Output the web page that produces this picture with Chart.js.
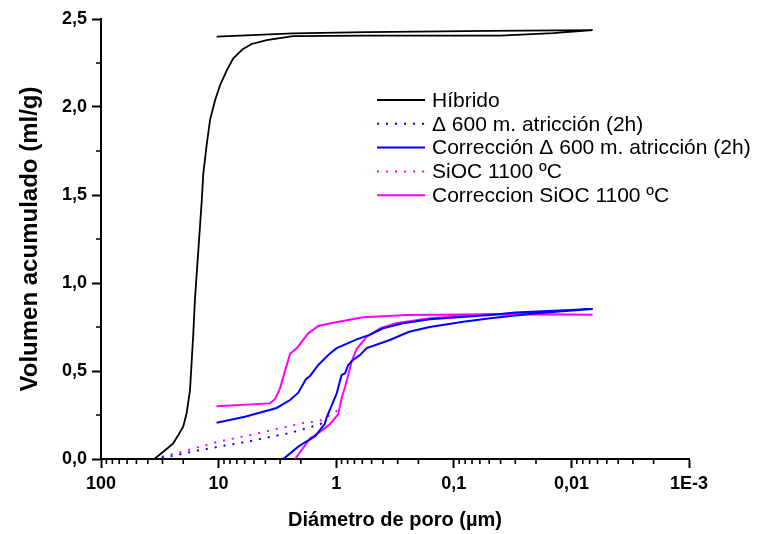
<!DOCTYPE html>
<html>
<head>
<meta charset="utf-8">
<script src="https://cdn.jsdelivr.net/npm/chart.js@4.4.1/dist/chart.umd.min.js"></script>
<style>
  html, body { margin: 0; padding: 0; background: #fff; }
  #wrap { width: 758px; height: 534px; position: relative; }
</style>
</head>
<body>
<div id="wrap"><canvas id="c"></canvas></div>
<script>
// Pore diameter (µm) and cumulative volume (ml/g): intrusion branch, then extrusion branch
const hibridoDiam = [35.2, 29.5, 24.3, 22.0, 20.0, 18.7, 17.5, 16.4, 15.9, 13.9, 13.5, 12.6, 11.8, 10.7, 9.7, 8.5, 7.5, 6.2, 5.23, 3.9, 2.33, 0.55, 0.0405, 0.0143, 0.0066, 0.05, 0.55, 2.33, 10.4];
const hibridoVol  = [0, 0.041, 0.089, 0.136, 0.184, 0.26, 0.392, 0.716, 0.903, 1.47, 1.62, 1.79, 1.93, 2.04, 2.125, 2.21, 2.277, 2.33, 2.358, 2.38, 2.403, 2.405, 2.405, 2.42, 2.437, 2.432, 2.425, 2.418, 2.40];

const atr600Diam = [30.5, 25.0, 14.4, 5.77, 2.39, 1.37, 1.22];
const atr600Vol  = [0.008, 0.017, 0.051, 0.098, 0.15, 0.197, 0.222];

const corrAtr600Diam = [2.82, 2.10, 1.84, 1.51, 1.25, 1.20, 0.99, 0.90, 0.84, 0.79, 0.72, 0.63, 0.55, 0.35, 0.24, 0.16, 0.083, 0.049, 0.02, 0.0066,
                        0.03, 0.049, 0.16, 0.27, 0.40, 0.52, 0.67, 0.99, 1.13, 1.42, 1.67, 1.81, 2.10, 2.47, 3.21, 5.97, 10.4];
const corrAtr600Vol  = [0, 0.07, 0.095, 0.13, 0.20, 0.24, 0.373, 0.477, 0.487, 0.534, 0.563, 0.59, 0.63, 0.676, 0.723, 0.75, 0.78, 0.80, 0.828, 0.852,
                        0.832, 0.818, 0.794, 0.771, 0.743, 0.705, 0.68, 0.63, 0.60, 0.534, 0.472, 0.453, 0.377, 0.335, 0.29, 0.24, 0.206];

const siocDiam = [35.9, 20.6, 10.1, 4.90, 1.96, 1.37, 1.17, 0.96];
const siocVol  = [0, 0.041, 0.098, 0.142, 0.203, 0.218, 0.244, 0.278];

const corrSiocDiam = [2.24, 1.67, 1.37, 1.13, 0.96, 0.90, 0.84, 0.79, 0.74, 0.67, 0.59, 0.55, 0.42, 0.31, 0.16, 0.049, 0.0066,
                      0.05, 0.25, 0.59, 1.06, 1.42, 1.73, 2.17, 2.47, 3.01, 3.31, 3.66, 10.4];
const corrSiocVol  = [0, 0.117, 0.155, 0.198, 0.255, 0.345, 0.41, 0.477, 0.553, 0.625, 0.67, 0.695, 0.743, 0.771, 0.80, 0.822, 0.82,
                      0.822, 0.818, 0.805, 0.774, 0.756, 0.714, 0.629, 0.597, 0.40, 0.34, 0.316, 0.30];

const xTickValues = [100, 10, 1, 0.1, 0.01, 0.001];
const xTickLabels = ['100', '10', '1', '0,1', '0,01', '1E-3'];
const yTickValues = [0, 0.5, 1.0, 1.5, 2.0, 2.5];
const yTickLabels = ['0,0', '0,5', '1,0', '1,5', '2,0', '2,5'];

const FONT = "'Liberation Sans', Arial, sans-serif";

function pts(d, v) { return d.map((x, i) => ({ x: x, y: v[i] })); }

function series(label, d, v, color, width, dash) {
  return {
    label: label, data: pts(d, v), showLine: true, borderColor: color, backgroundColor: color,
    borderWidth: width, borderDash: dash || [], borderCapStyle: 'butt', pointRadius: 0, tension: 0, fill: false
  };
}

// small ticks between the labelled ones (2..9 per decade, halfway steps on the volume axis)
const minorTicks = {
  id: 'minorTicks',
  afterDraw(chart) {
    const { ctx, scales: { x, y }, chartArea } = chart;
    ctx.save();
    ctx.strokeStyle = '#000';
    ctx.lineWidth = 1.6;
    ctx.beginPath();
    for (let e = -3; e < 2; e++) {
      for (let k = 2; k <= 9; k++) {
        const px = x.getPixelForValue(k * Math.pow(10, e));
        ctx.moveTo(px, chartArea.bottom);
        ctx.lineTo(px, chartArea.bottom + 5);
      }
    }
    for (let i = 0; i < yTickValues.length - 1; i++) {
      const py = y.getPixelForValue((yTickValues[i] + yTickValues[i + 1]) / 2);
      ctx.moveTo(chartArea.left - 5, py);
      ctx.lineTo(chartArea.left, py);
    }
    ctx.stroke();
    ctx.restore();
  }
};

// legend block inside the plot
const seriesKey = {
  id: 'seriesKey',
  afterDraw(chart) {
    const ctx = chart.ctx;
    const x0 = 377, x1 = 425, tx = 432, y0 = 100, step = 23.8;
    ctx.save();
    ctx.font = "21px " + FONT;
    ctx.textBaseline = 'middle';
    ctx.fillStyle = '#000';
    chart.data.datasets.forEach((ds, i) => {
      const yy = y0 + i * step;
      ctx.strokeStyle = ds.borderColor;
      ctx.lineWidth = ds.borderWidth;
      ctx.lineCap = 'butt';
      ctx.setLineDash(ds.borderDash);
      ctx.beginPath();
      ctx.moveTo(x0, yy);
      ctx.lineTo(x1, yy);
      ctx.stroke();
      ctx.setLineDash([]);
      ctx.fillText(ds.label, tx, yy + 1);
    });
    ctx.restore();
  }
};

new Chart(document.getElementById('c'), {
  type: 'scatter',
  data: {
    datasets: [
      series('Híbrido', hibridoDiam, hibridoVol, '#000000', 1.8),
      series('Δ 600 m. atricción (2h)', atr600Diam, atr600Vol, '#0000ff', 2, [2, 7]),
      series('Corrección Δ 600 m. atricción (2h)', corrAtr600Diam, corrAtr600Vol, '#0000ff', 2),
      series('SiOC 1100 ºC', siocDiam, siocVol, '#ff00ff', 2, [2, 7]),
      series('Correccion SiOC 1100 ºC', corrSiocDiam, corrSiocVol, '#ff00ff', 2)
    ]
  },
  options: {
    responsive: true,
    maintainAspectRatio: false,
    animation: false,
    layout: { padding: { top: 19, right: 69, left: 0, bottom: 0 } },
    plugins: { legend: { display: false }, tooltip: { enabled: false } },
    scales: {
      x: {
        type: 'logarithmic',
        reverse: true,
        min: 0.001,
        max: 100,
        afterFit: (s) => { s.height = 75; },
        afterBuildTicks: (s) => { s.ticks = xTickValues.map(v => ({ value: v, major: true })); },
        ticks: {
          autoSkip: false, maxRotation: 0, minRotation: 0, padding: 5, color: '#000',
          font: { family: FONT, size: 18, weight: 'bold' },
          callback: (v) => { const i = xTickValues.indexOf(v); return i >= 0 ? xTickLabels[i] : ''; }
        },
        grid: { display: true, drawOnChartArea: false, drawTicks: true, tickLength: 9, tickWidth: 2, tickColor: '#000', color: '#000' },
        border: { display: true, color: '#000', width: 2 },
        title: { display: true, text: 'Diámetro de poro (µm)', color: '#000', font: { family: FONT, size: 20, weight: 'bold' }, padding: { top: 0, bottom: 2 } }
      },
      y: {
        type: 'linear',
        min: 0,
        max: 2.5,
        afterFit: (s) => { s.width = 101; },
        afterBuildTicks: (s) => { s.ticks = yTickValues.map(v => ({ value: v })); },
        ticks: {
          padding: 5, color: '#000',
          font: { family: FONT, size: 18, weight: 'bold' },
          callback: (v) => { const i = yTickValues.indexOf(v); return i >= 0 ? yTickLabels[i] : ''; }
        },
        grid: { display: true, drawOnChartArea: false, drawTicks: true, tickLength: 9, tickWidth: 2, tickColor: '#000', color: '#000' },
        border: { display: true, color: '#000', width: 2 },
        title: { display: true, text: 'Volumen acumulado (ml/g)', color: '#000', font: { family: FONT, size: 24, weight: 'bold' }, padding: { top: 16, bottom: 0 } }
      }
    }
  },
  plugins: [minorTicks, seriesKey]
});
</script>
</body>
</html>
